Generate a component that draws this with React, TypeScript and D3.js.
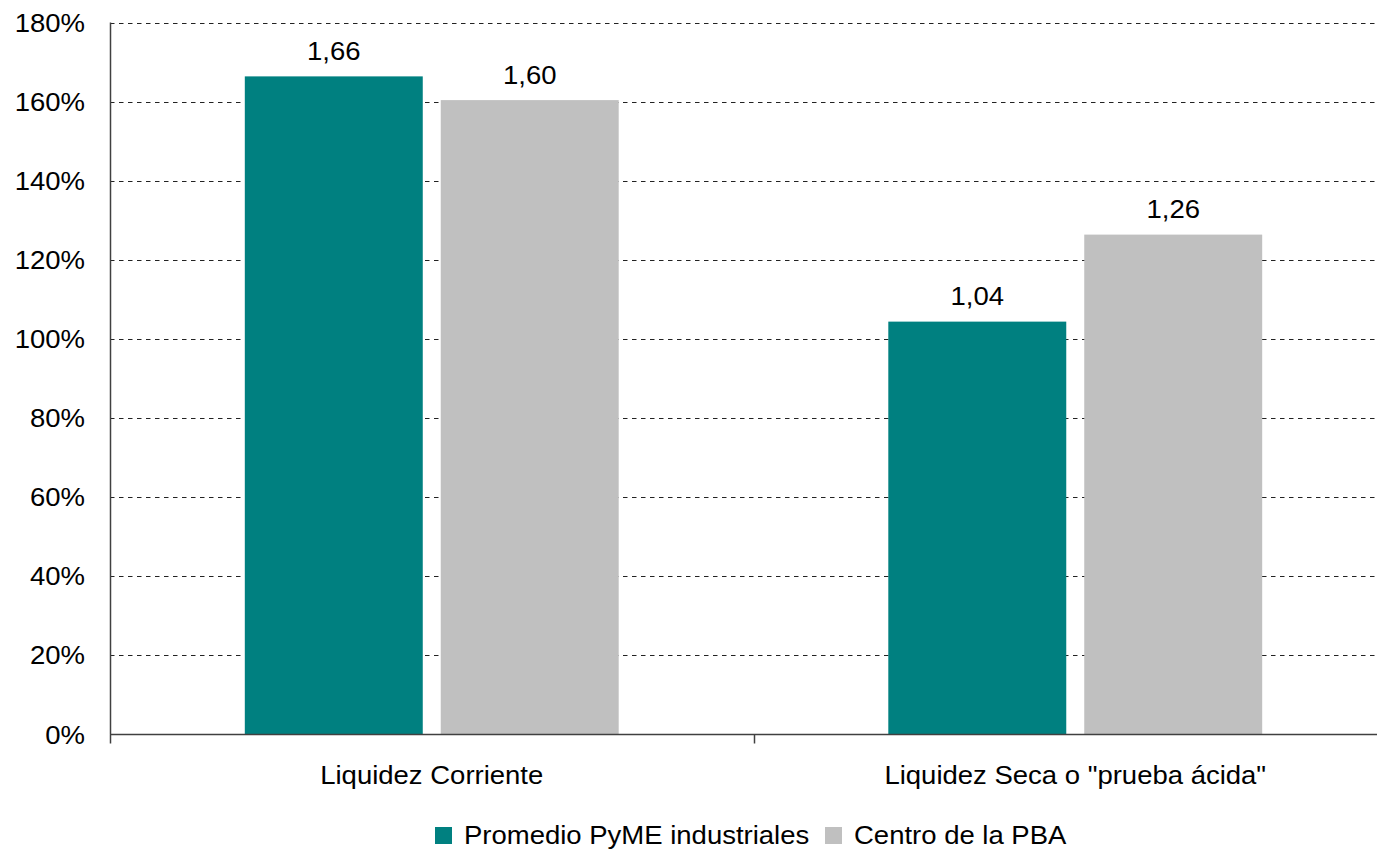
import { useEffect, useRef } from 'react';
import * as d3 from 'd3';

const categories = ['Liquidez Corriente', 'Liquidez Seca o "prueba ácida"'];
const seriesNames = ['Promedio PyME industriales', 'Centro de la PBA'];
const pymeValues = [1.66, 1.04];
const pbaValues = [1.6, 1.26];
const yTicks = [0, 0.2, 0.4, 0.6, 0.8, 1.0, 1.2, 1.4, 1.6, 1.8];
const colors = ['#008080', '#C0C0C0'];

const W = 1377;
const H = 851;
const FONT = '"Liberation Sans", Arial, sans-serif';
const FS = 25;
const SX = 1.1; // source text is slightly stretched horizontally

const esFormat = d3.formatLocale({ decimal: ',', thousands: '.', grouping: [3], currency: ['$', ''] }).format('.2f');

type Sel = d3.Selection<SVGGElement, unknown, null, undefined>;

// text placed by transform so it can be widened a little like the source
const addText = (g: Sel, x: number, y: number, s: string, anchor = 'start', dy = '0') =>
  g
    .append('text')
    .attr('transform', `translate(${x},${y}) scale(${SX},1)`)
    .attr('dy', dy)
    .attr('text-anchor', anchor)
    .attr('font-family', FONT)
    .attr('font-size', `${FS}px`)
    .attr('fill', '#000')
    .text(s);

export default function App() {
  const svgRef = useRef<SVGSVGElement>(null);

  useEffect(() => {
    const svg = d3.select(svgRef.current);
    svg.selectAll('*').remove();
    const root = svg.append('g') as unknown as Sel;

    const left = 110;
    const right = 1397;
    const top = 22.5;
    const bottom = 734.5;

    const x = d3.scaleBand<string>().domain(categories).range([left, right]).padding(0);
    const xSub = d3
      .scaleBand<string>()
      .domain(seriesNames)
      .range([0, x.bandwidth()])
      .paddingInner(0.0918)
      .paddingOuter(0.688);
    const y = d3.scaleLinear().domain([0, 1.8]).range([bottom, top]);

    // gridlines
    root
      .append('g')
      .selectAll('line')
      .data(yTicks.filter((t) => t > 0))
      .enter()
      .append('line')
      .attr('x1', left)
      .attr('x2', W)
      .attr('y1', (d) => Math.round(y(d)) + 0.5)
      .attr('y2', (d) => Math.round(y(d)) + 0.5)
      .attr('stroke', '#222')
      .attr('stroke-width', 1)
      .attr('stroke-dasharray', '4.5,4.5');

    // y tick labels
    const yl = root.append('g') as Sel;
    yTicks.forEach((t) => addText(yl, 85, y(t), d3.format('.0%')(t), 'end', '0.36em'));

    // bars
    const series = [pymeValues, pbaValues];
    series.forEach((vals, si) => {
      const g = root.append('g') as Sel;
      g.selectAll('rect')
        .data(vals)
        .enter()
        .append('rect')
        .attr('x', (_d, i) => (x(categories[i]) ?? 0) + (xSub(seriesNames[si]) ?? 0))
        .attr('y', (d) => y(d) - 1.5)
        .attr('width', xSub.bandwidth())
        .attr('height', (d) => y(0) - y(d) + 1.5)
        .attr('fill', colors[si]);
      vals.forEach((v, i) => {
        const cx = (x(categories[i]) ?? 0) + (xSub(seriesNames[si]) ?? 0) + xSub.bandwidth() / 2;
        addText(g, cx, y(v) - 18, esFormat(v), 'middle');
      });
    });

    // axes
    const axisColor = '#404040';
    root
      .append('line')
      .attr('x1', left + 0.5)
      .attr('x2', left + 0.5)
      .attr('y1', top)
      .attr('y2', bottom)
      .attr('stroke', axisColor)
      .attr('stroke-width', 1.5);
    root
      .append('line')
      .attr('x1', left)
      .attr('x2', W)
      .attr('y1', bottom)
      .attr('y2', bottom)
      .attr('stroke', axisColor)
      .attr('stroke-width', 1.5);
    const boundaries = [left, ...categories.map((c) => (x(c) ?? 0) + x.bandwidth())];
    root
      .append('g')
      .selectAll('line')
      .data(boundaries)
      .enter()
      .append('line')
      .attr('x1', (d) => Math.round(d) + 0.5)
      .attr('x2', (d) => Math.round(d) + 0.5)
      .attr('y1', bottom)
      .attr('y2', bottom + 9)
      .attr('stroke', axisColor)
      .attr('stroke-width', 1.5);

    // category labels
    const cl = root.append('g') as Sel;
    categories.forEach((c) => addText(cl, (x(c) ?? 0) + x.bandwidth() / 2, 784, c, 'middle'));

    // legend
    const legendX = [435, 825];
    const lg = root.append('g') as Sel;
    seriesNames.forEach((name, i) => {
      lg.append('rect')
        .attr('x', legendX[i])
        .attr('y', 827)
        .attr('width', 17)
        .attr('height', 17)
        .attr('fill', colors[i]);
      addText(lg, legendX[i] + 29, 843.5, name);
    });
  }, []);

  return (
    <svg
      ref={svgRef}
      width={W}
      height={H}
      viewBox={`0 0 ${W} ${H}`}
      style={{ position: 'absolute', left: 0, top: 0, background: '#fff' }}
    />
  );
}
